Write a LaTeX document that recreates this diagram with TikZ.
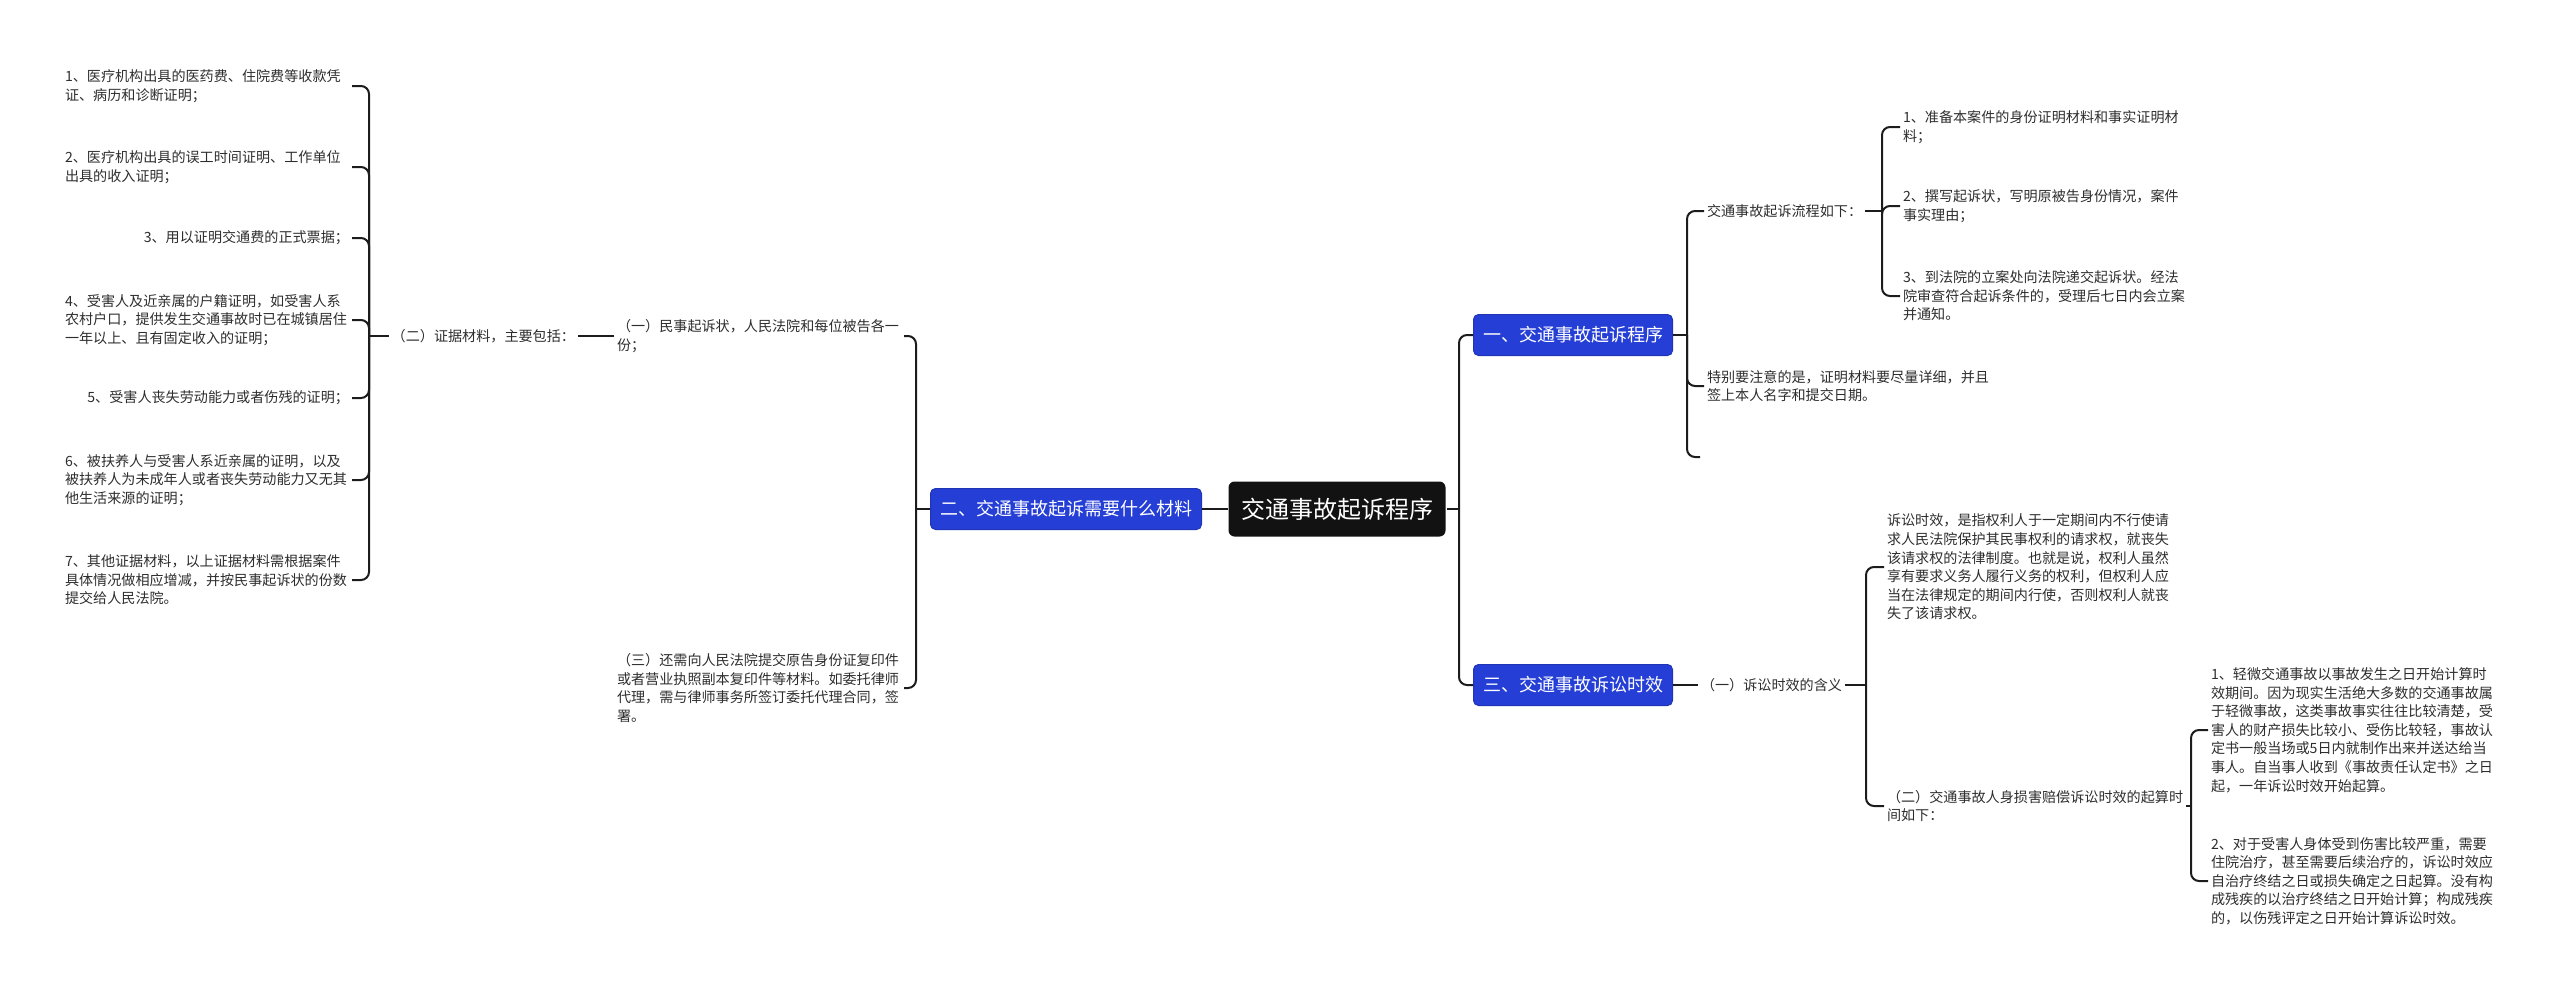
\documentclass[tikz,border=0pt]{standalone}
\usepackage{fontspec}
\setmainfont{Noto Sans CJK SC}
\usetikzlibrary{positioning}
\definecolor{topblue}{RGB}{37,62,214}
\definecolor{rootblack}{RGB}{18,18,18}
\definecolor{leafgray}{RGB}{45,45,45}
\definecolor{linegray}{RGB}{28,28,28}

\begin{document}
\begin{tikzpicture}[x=1pt,y=-1pt,line width=2pt,draw=linegray,
  leaf/.style={align=left,inner sep=2pt,text=leafgray,font=\fontsize{14.1}{18.6}\selectfont},
  wide/.style={leaf,text width=284pt},
  topic/.style={fill=topblue,draw=topblue!85!black,line width=1pt,rounded corners=5pt,text=white,
    inner xsep=9.5pt,minimum height=41pt,font=\fontsize{18}{20}\selectfont},
  root/.style={fill=rootblack,rounded corners=6pt,text=white,inner xsep=12.5pt,
    minimum height=55pt,font=\fontsize{24}{26}\selectfont},
  elbow/.style={rounded corners=8pt,to path={|- (\tikztotarget)}}]
                \useasboundingbox (0,0) rectangle (2560,994);
                \node[root](main)at(1337,509){交通事故起诉程序};
                \node[topic,anchor=west](t1)at(1473,335){一、交通事故起诉程序};
                \node[topic,anchor=east](t2)at(1202,509){二、交通事故起诉需要什么材料};
                \node[topic,anchor=west](t3)at(1473,685){三、交通事故诉讼时效};

                % right: part one
                \node[leaf,anchor=west](flow)at(1704,211){交通事故起诉流程如下：};
                \node[leaf,anchor=west](s1)at(1900,127){1、准备本案件的身份证明材料和事实证明材\\料；};
                \node[leaf,anchor=west](s2)at(1900,206){2、撰写起诉状，写明原被告身份情况，案件\\事实理由；};
                \node[leaf,anchor=west](s3)at(1900,296){3、到法院的立案处向法院递交起诉状。经法\\院审查符合起诉条件的，受理后七日内会立案\\并通知。};
                \node[leaf,anchor=west](note)at(1704,386){特别要注意的是，证明材料要尽量详细，并且\\签上本人名字和提交日期。};
                \coordinate(blank)at(1700,457);

                % right: part three
                \node[leaf,anchor=west](hanyi)at(1698,685){（一）诉讼时效的含义};
                \node[leaf,anchor=west](sxdef)at(1884,567){诉讼时效，是指权利人于一定期间内不行使请\\求人民法院保护其民事权利的请求权，就丧失\\该请求权的法律制度。也就是说，权利人虽然\\享有要求义务人履行义务的权利，但权利人应\\当在法律规定的期间内行使，否则权利人就丧\\失了该请求权。};
                \node[leaf,anchor=west](qisuan)at(1884,806){（二）交通事故人身损害赔偿诉讼时效的起算时\\间如下：};
                \node[leaf,anchor=west](r1)at(2208,730){1、轻微交通事故以事故发生之日开始计算时\\效期间。因为现实生活绝大多数的交通事故属\\于轻微事故，这类事故事实往往比较清楚，受\\害人的财产损失比较小、受伤比较轻，事故认\\定书一般当场或5日内就制作出来并送达给当\\事人。自当事人收到《事故责任认定书》之日\\起，一年诉讼时效开始起算。};
                \node[leaf,anchor=west](r2)at(2208,881){2、对于受害人身体受到伤害比较严重，需要\\住院治疗，甚至需要后续治疗的，诉讼时效应\\自治疗终结之日或损失确定之日起算。没有构\\成残疾的以治疗终结之日开始计算；构成残疾\\的，以伤残评定之日开始计算诉讼时效。};

                % left: part two
                \node[wide,anchor=east](yi)at(904,336){（一）民事起诉状，人民法院和每位被告各一\\份；};
                \node[wide,anchor=east](san)at(904,688){（三）还需向人民法院提交原告身份证复印件\\或者营业执照副本复印件等材料。如委托律师\\代理，需与律师事务所签订委托代理合同，签\\署。};
                \node[leaf,anchor=east](zj)at(578,336){（二）证据材料，主要包括：};
                \node[wide,anchor=east](m1)at(352,86){1、医疗机构出具的医药费、住院费等收款凭\\证、病历和诊断证明；};
                \node[wide,anchor=east](m2)at(352,167){2、医疗机构出具的误工时间证明、工作单位\\出具的收入证明；};
                \node[leaf,anchor=east](m3)at(352,238){3、用以证明交通费的正式票据；};
                \node[wide,anchor=east](m4)at(352,320){4、受害人及近亲属的户籍证明，如受害人系\\农村户口，提供发生交通事故时已在城镇居住\\一年以上、且有固定收入的证明；};
                \node[leaf,anchor=east](m5)at(352,398){5、受害人丧失劳动能力或者伤残的证明；};
                \node[wide,anchor=east](m6)at(352,480){6、被扶养人与受害人系近亲属的证明，以及\\被扶养人为未成年人或者丧失劳动能力又无其\\他生活来源的证明；};
                \node[wide,anchor=east](m7)at(352,580){7、其他证据材料，以上证据材料需根据案件\\具体情况做相应增减，并按民事起诉状的份数\\提交给人民法院。};

                % bracket joints
                \coordinate(jm)at(1459,509);
                \coordinate(j1)at(1687,335);
                \coordinate(j2)at(1882,211);
                \coordinate(j3)at(1866,685);
                \coordinate(j4)at(2191,806);
                \coordinate(jl)at(916,509);
                \coordinate(jz)at(369,336);

                \path[](main) edge (t2)
                (main.east) edge (jm)
                (jm) edge[elbow] (t1.west)
                (jm) edge[elbow] (t3.west);
                \path[]
                (t1.east) edge (j1)
                (j1) edge[elbow] (flow.west)
                (j1) edge[elbow] (note.west)
                (j1) edge[elbow] (blank)
                (flow.east) edge (j2)
                (j2) edge[elbow] (s1.west)
                (j2) edge[elbow] (s2.west)
                (j2) edge[elbow] (s3.west);
                \path[]
                (t3.east) edge (hanyi.west)
                (hanyi.east) edge (j3)
                (j3) edge[elbow] (sxdef.west)
                (j3) edge[elbow] (qisuan.west)
                (qisuan.east) edge (j4)
                (j4) edge[elbow] (r1.west)
                (j4) edge[elbow] (r2.west);
                \path[]
                (t2.west) edge (jl)
                (jl) edge[elbow] (yi.east)
                (jl) edge[elbow] (san.east)
                (yi.west) edge (zj.east)
                (zj.west) edge (jz)
                (jz) edge[elbow] (m1.east)
                (jz) edge[elbow] (m2.east)
                (jz) edge[elbow] (m3.east)
                (jz) edge[elbow] (m4.east)
                (jz) edge[elbow] (m5.east)
                (jz) edge[elbow] (m6.east)
                (jz) edge[elbow] (m7.east);
            \end{tikzpicture}
\end{document}
